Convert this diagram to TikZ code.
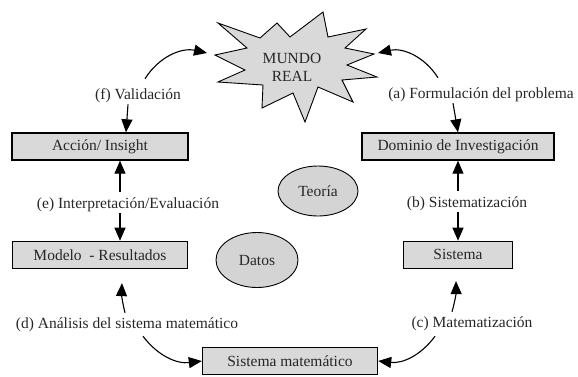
\documentclass[tikz,border=0pt]{standalone}
\usepackage{fontspec}
\setmainfont{Liberation Serif}
\usetikzlibrary{positioning,arrows.meta,shapes.geometric}

\begin{document}
\begin{tikzpicture}[
  x=1pt, y=-1pt,
  every node/.style={font=\fontsize{15.5}{18}\selectfont, align=center, text=black!85},
  caja/.style={draw, line width=1.4pt, fill=black!15, minimum height=27pt, inner sep=2pt},
  nube/.style={draw, ellipse, line width=0.9pt, fill=black!17, inner sep=0pt},
  etiq/.style={inner sep=1pt},
  arr/.style={-{Triangle[length=13pt,width=11pt]}, line width=1.1pt}
]
  \useasboundingbox (0,0) rectangle (578,376);

  % mundo real
  \draw[line width=0.9pt, fill=black!15] (215,55) -- (247,48) -- (218,23) -- (260,38) -- (277,23)
    -- (290,37) -- (323,12) -- (328,37) -- (366,29) -- (345,48) -- (374,54) -- (347,65)
    -- (377,77) -- (342,80) -- (353,102) -- (318,87) -- (305,122) -- (293,93) -- (262,108)
    -- (263,85) -- (218,82) -- (245,70) -- cycle;
  \node (mundo) at (292,67) {MUNDO\\REAL};
  \coordinate (mundoW) at (207,53);
  \coordinate (mundoE) at (378,53);

  % cajas
  \node[caja, minimum width=176pt] (accion) at (100,146.5) {Acción/ Insight};
  \node[caja, minimum width=175pt, below=80pt of accion] (modelo) {Modelo\ \ - Resultados};
  \node[caja, minimum width=192pt] (dominio) at (458,146.5) {Dominio de Investigación};
  \node[caja, minimum width=109pt, below=80pt of dominio] (sistema) {Sistema};
  \node[caja, minimum width=175pt] (sismat) at (290,361) {Sistema matemático};

  \node[nube, minimum width=80pt, minimum height=50pt] (teoria) at (318,191) {Teoría};
  \node[nube, minimum width=82pt, minimum height=55pt] (datos) at (257,260) {Datos};

  % etiquetas
  \node[etiq] (lf) at (138,96) {(f) Validación};
  \node[etiq] (la) at (481,95) {(a) Formulación del problema};
  \node[etiq] (le) at (128,205) {(e) Interpretación/Evaluación};
  \node[etiq] (lb) at (467,204) {(b) Sistematización};
  \node[etiq] (ld) at (127,325) {(d) Análisis del sistema matemático};
  \node[etiq] (lc) at (472,324) {(c) Matematización};

  % flechas
  \draw[arr] ([shift={(-43pt,9pt)}]la.north) to[bend right=35] (mundoE);
  \draw[arr] ([xshift=-28pt]la.south) -- (dominio.north);
  \draw[arr] ([xshift=-9pt,yshift=5pt]lb.north) -- (dominio.south);
  \draw[arr] ([xshift=-9pt]lb.south) -- (sistema.north);
  \draw[arr] ([shift={(-20pt,4pt)}]lc.north) to[bend right=8] ([shift={(-2pt,-12pt)}]sistema.south);
  \draw[arr] ([shift={(-37pt,-4pt)}]lc.south) to[bend left=30] (sismat.east);
  \draw[arr] ([shift={(16pt,-3pt)}]ld.south) to[bend right=30] (sismat.west);
  \draw[arr] ([shift={(-2pt,4pt)}]ld.north) to[bend left=8] ([shift={(22pt,-14pt)}]modelo.south);
  \draw[arr] ([xshift=-8pt]le.south) -- ([xshift=20pt]modelo.north);
  \draw[arr] ([xshift=-8pt,yshift=5pt]le.north) -- ([xshift=20pt]accion.south);
  \draw[arr] ([xshift=-10pt]lf.south) -- ([xshift=26pt]accion.north);
  \draw[arr] ([shift={(7pt,9pt)}]lf.north) to[bend left=35] (mundoW);
\end{tikzpicture}
\end{document}
